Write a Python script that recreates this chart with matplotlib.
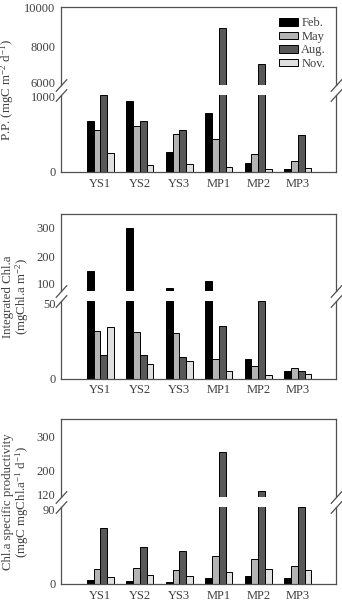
import matplotlib
matplotlib.use('Agg')
import matplotlib.pyplot as plt
from matplotlib.transforms import ScaledTranslation
import numpy as np

plt.rcParams['font.family'] = ['Liberation Serif', 'DejaVu Serif']
plt.rcParams['font.size'] = 9
plt.rcParams['mathtext.fontset'] = 'custom'
plt.rcParams['mathtext.rm'] = 'Liberation Serif'
plt.rcParams['mathtext.it'] = 'Liberation Serif:italic'

stations = ['YS1', 'YS2', 'YS3', 'MP1', 'MP2', 'MP3']
months = ['Feb.', 'May', 'Aug.', 'Nov.']
colores = ['#000000', '#b4b4b4', '#585858', '#e0e0e0']

# primary production (mgC m-2 d-1), una lista por mes
pp_feb = [655, 922, 263, 767, 116, 34]
pp_may = [539, 590, 496, 422, 237, 138]
pp_aug = [995, 655, 539, 8910, 7070, 478]
pp_nov = [241, 95, 99, 65, 43, 56]

# integrated chl a (mgChl.a m-2)
chl_feb = [151, 300, 92, 114, 12.9, 5.2]
chl_may = [30.6, 30.4, 29.3, 12.7, 8.0, 6.7]
chl_aug = [15.3, 15.1, 14.0, 34.0, 50.0, 5.2]
chl_nov = [33.6, 9.3, 11.6, 4.7, 2.6, 3.2]

# chl a specific productivity
sp_feb = [4.7, 3.1, 2.7, 6.7, 9.4, 7.0]
sp_may = [17.2, 19.2, 16.8, 33.3, 29.7, 21.1]
sp_aug = [65.7, 43.4, 38.3, 254, 138, 90]
sp_nov = [7.8, 10.6, 9.0, 13.7, 17.2, 16.8]

paneles = [
    ([pp_feb, pp_may, pp_aug, pp_nov], (6000, 10000), [6000, 8000, 10000], (0, 1000), [0, 1000],
     r'P.P. (mgC m$^{-2}$ d$^{-1}$)'),
    ([chl_feb, chl_may, chl_aug, chl_nov], (80, 348), [100, 200, 300], (0, 50), [0, 50],
     'Integrated Chl.a\n(mgChl.a m$^{-2}$)'),
    ([sp_feb, sp_may, sp_aug, sp_nov], (120, 352), [120, 200, 300], (0, 90), [0, 90],
     'Chl.a specific productivity\n(mgC mgChl.a$^{-1}$ d$^{-1}$)'),
]

# posiciones (en pixeles de la figura) de cada par de ejes: (top, bottom)
W, H = 342, 603
x0, x1 = 61, 336
cajas = [((7.3, 85), (94.7, 172)),
         ((214, 291), (301.3, 378.7)),
         ((419.3, 496.7), (507.3, 584))]

txtcol = '#404040'
fig = plt.figure(figsize=(W / 100, H / 100), dpi=100)

x = np.arange(len(stations))
ancho = 0.172

for p, (series, ylim_up, ticks_up, ylim_lo, ticks_lo, ylab) in enumerate(paneles):
    (t_up, b_up), (t_lo, b_lo) = cajas[p]
    ax_up = fig.add_axes([x0 / W, 1 - b_up / H, (x1 - x0) / W, (b_up - t_up) / H])
    ax_lo = fig.add_axes([x0 / W, 1 - b_lo / H, (x1 - x0) / W, (b_lo - t_lo) / H])
    for ax in (ax_up, ax_lo):
        for k, serie in enumerate(series):
            ax.bar(x + (k - 1.5) * ancho, serie, ancho, color=colores[k],
                   edgecolor='black', linewidth=0.7, label=months[k])
        ax.set_xlim(-1, 5.97)
        ax.tick_params(length=0, colors=txtcol, labelsize=9, pad=4)
        for s in ax.spines.values():
            s.set_color('#505050')
            s.set_linewidth(0.9)
    ax_up.set_ylim(*ylim_up)
    ax_up.set_yticks(ticks_up)
    ax_lo.set_ylim(*ylim_lo)
    ax_lo.set_yticks(ticks_lo)
    ax_up.spines['bottom'].set_visible(False)
    ax_lo.spines['top'].set_visible(False)
    ax_up.set_xticks([])
    ax_lo.set_xticks(x)
    ax_lo.set_xticklabels(stations)

    # separar un poco las etiquetas que quedan pegadas en el corte
    fig.canvas.draw()
    ax_up.get_yticklabels()[0].set_transform(
        ax_up.get_yaxis_transform(which='tick1') + ScaledTranslation(-4 / 72, 1.5 / 72, fig.dpi_scale_trans))
    ax_lo.get_yticklabels()[-1].set_transform(
        ax_lo.get_yaxis_transform(which='tick1') + ScaledTranslation(-4 / 72, -1.5 / 72, fig.dpi_scale_trans))

    # marcas de corte //
    kw = dict(marker=[(-1, -1.1), (1, 1.1)], markersize=9, linestyle='none',
              color='#505050', mec='#505050', mew=0.9, clip_on=False)
    ax_up.plot([0, 1], [0, 0], transform=ax_up.transAxes, **kw)
    ax_lo.plot([0, 1], [1, 1], transform=ax_lo.transAxes, **kw)

    ymid = 1 - (t_up + b_lo) / 2 / H
    if '\n' in ylab:
        fig.text(2.5 / W, ymid, ylab, rotation=90, ha='left', va='center',
                 multialignment='center', color=txtcol, fontsize=9.3, linespacing=0.95)
    else:
        fig.text(7.5 / W, ymid, ylab, rotation=90, ha='center', va='center',
                 color=txtcol, fontsize=9.3)

    if p == 0:
        ax_up.legend(loc='upper right', bbox_to_anchor=(1.0, 1.0), frameon=False,
                     handlelength=1.5, handleheight=0.55, labelspacing=0.12,
                     handletextpad=0.3, borderaxespad=0.4, fontsize=9,
                     labelcolor=txtcol)

fig.savefig('out.png', dpi=100)
